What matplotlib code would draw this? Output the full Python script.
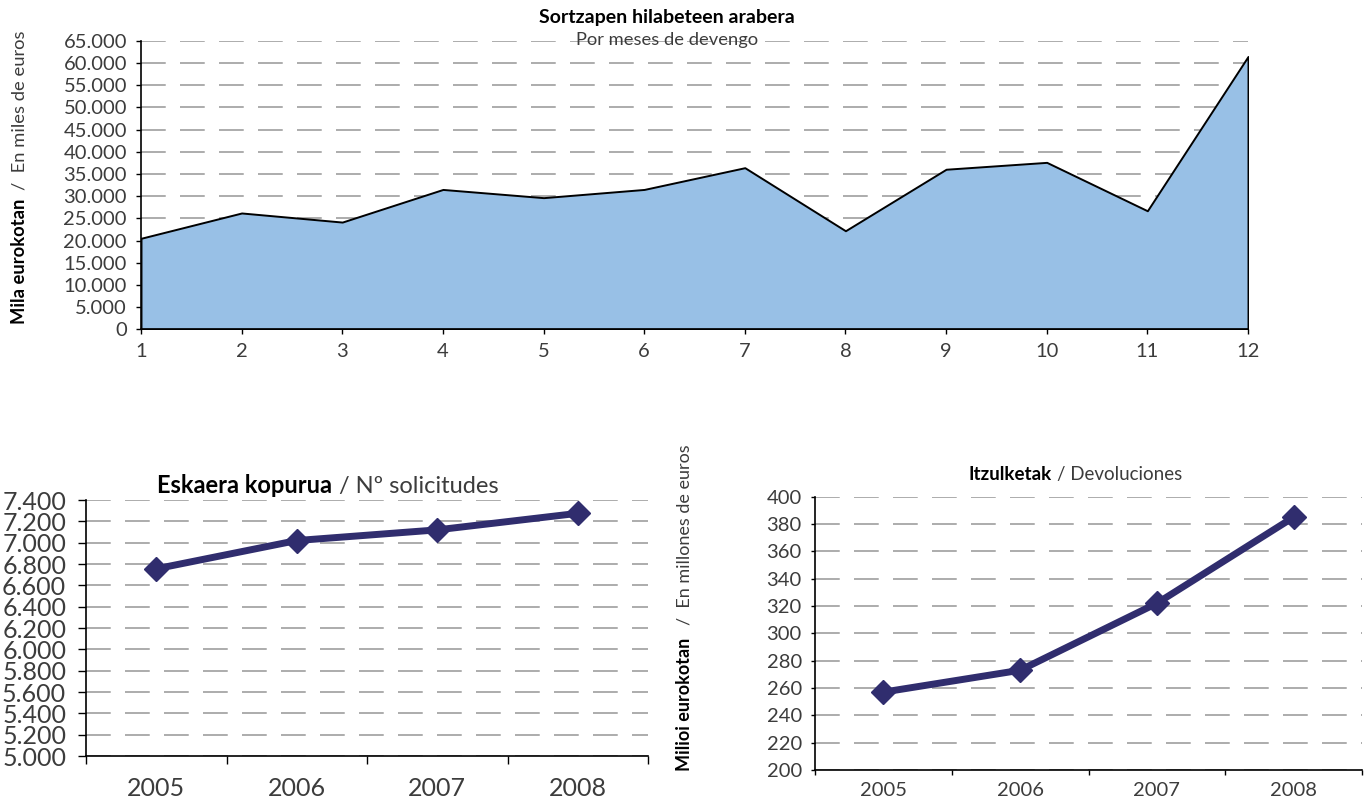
import matplotlib
matplotlib.use("Agg")
import matplotlib.pyplot as plt
from matplotlib.ticker import FuncFormatter, MultipleLocator, FixedLocator

# --- data ---
months = list(range(1, 13))
monthly_values = [20500, 26200, 24150, 31500, 29650, 31500,
                  36400, 22200, 36050, 37600, 26700, 61450]

years = ["2005", "2006", "2007", "2008"]
applications = [6755, 7020, 7120, 7275]
refunds = [257, 273, 322, 385]

# --- style ---
FONT = "Lato"
NAVY = "#302d6e"
FILL = "#98c0e6"
GRID = "#a6a6a6"
TXT = "#3c3c3c"
WEIGHT = "normal"
DASH = (0, (13.7, 7.9))

plt.rcParams["font.family"] = FONT

W, H = 1370, 801
fig = plt.figure(figsize=(W / 100, H / 100), dpi=100)


def px_axes(x0, y0, x1, y1):
    # pixel box (top-left origin) -> axes
    return fig.add_axes([x0 / W, 1 - y1 / H, (x1 - x0) / W, (y1 - y0) / H])


def thousands(v, _):
    return f"{v:,.0f}".replace(",", ".")


def base_style(ax):
    for s in ("top", "right"):
        ax.spines[s].set_visible(False)
    for s in ("left", "bottom"):
        ax.spines[s].set_color("black")
        ax.spines[s].set_linewidth(1.2)
    ax.set_axisbelow(True)
    ax.yaxis.grid(True, color=GRID, linewidth=1.3, linestyle=DASH)
    ax.xaxis.grid(False)


def two_part_label(x, y, bold, light, size, rotation=0, gap=4):
    t1 = fig.text(x, y, bold, fontsize=size, fontweight="bold",
                  color="black", rotation=rotation,
                  ha="center" if rotation else "left", va="bottom")
    if rotation == 90:
        t2 = fig.add_artist(plt.Annotation(
            light, xy=(0.5, 1), xycoords=t1, xytext=(0, gap),
            textcoords="offset points", ha="center", va="bottom",
            rotation=90, fontsize=size, fontweight=WEIGHT, color=TXT))
    else:
        t2 = fig.add_artist(plt.Annotation(
            light, xy=(1, 0), xycoords=t1, xytext=(gap, 0),
            textcoords="offset points", ha="left", va="bottom",
            fontsize=size, fontweight=WEIGHT, color=TXT))
    return t1, t2


# --- top: monthly area chart ---
ax1 = px_axes(141, 40.7, 1248, 329.3)
base_style(ax1)
ax1.fill_between(months, monthly_values, 0, facecolor=FILL,
                 edgecolor="black", linewidth=1.4)
ax1.set_xlim(1, 12)
ax1.set_ylim(0, 65000)
ax1.xaxis.set_major_locator(FixedLocator(months))
ax1.yaxis.set_major_locator(MultipleLocator(5000))
ax1.yaxis.set_major_formatter(FuncFormatter(thousands))
ax1.tick_params(axis="y", length=3.6, width=1, pad=6.5, labelsize=14.5,
                labelcolor=TXT)
ax1.tick_params(axis="x", length=3.6, width=1, pad=6, labelsize=14.5,
                labelcolor=TXT)
for lab in ax1.get_xticklabels() + ax1.get_yticklabels():
    lab.set_fontweight(WEIGHT)

fig.text(667 / W, 1 - 17 / H, "Sortzapen hilabeteen arabera", ha="center",
         va="center", fontsize=14, fontweight="bold", color="black")
fig.text(667 / W, 1 - 40 / H, "Por meses de devengo", ha="center",
         va="center", fontsize=13.2, fontweight=WEIGHT, color=TXT)
two_part_label(20 / W, 1 - 324 / H, "Mila eurokotan", "/  En miles de euros",
               13.2, rotation=90, gap=6)

# --- bottom-left: applications ---
ax2 = px_axes(86, 500, 648, 756)
base_style(ax2)
xpos = list(range(len(years)))
ax2.plot(xpos, applications, color=NAVY, linewidth=5, marker="D",
         markersize=12, solid_joinstyle="miter")
ax2.set_xlim(-0.5, len(years) - 0.5)
ax2.set_ylim(5000, 7400)
ax2.xaxis.set_major_locator(FixedLocator([i - 0.5 for i in range(len(years) + 1)]))
ax2.xaxis.set_major_formatter(FuncFormatter(lambda v, _: ""))
ax2.set_xticks(xpos, years, minor=True)
ax2.yaxis.set_major_locator(MultipleLocator(200))
ax2.yaxis.set_major_formatter(FuncFormatter(thousands))
ax2.tick_params(axis="x", which="major", length=5.5, width=1)
ax2.tick_params(axis="x", which="minor", length=0, pad=15, labelsize=18,
                labelcolor=TXT)
ax2.tick_params(axis="y", length=5.8, width=1, pad=8.5, labelsize=18,
                labelcolor=TXT)
for lab in ax2.get_xticklabels(minor=True) + ax2.get_yticklabels():
    lab.set_fontweight(WEIGHT)

two_part_label(157 / W, 1 - 497 / H, "Eskaera kopurua", "/ Nº solicitudes",
               17, gap=5)

# --- bottom-right: refunds ---
ax3 = px_axes(815, 496.7, 1362, 770)
base_style(ax3)
ax3.plot(xpos, refunds, color=NAVY, linewidth=5, marker="D",
         markersize=12, solid_joinstyle="miter")
ax3.set_xlim(-0.5, len(years) - 0.5)
ax3.set_ylim(200, 400)
ax3.xaxis.set_major_locator(FixedLocator([i - 0.5 for i in range(len(years) + 1)]))
ax3.xaxis.set_major_formatter(FuncFormatter(lambda v, _: ""))
ax3.set_xticks(xpos, years, minor=True)
ax3.yaxis.set_major_locator(MultipleLocator(20))
ax3.tick_params(axis="x", which="major", length=3.5, width=1)
ax3.tick_params(axis="x", which="minor", length=0, pad=9, labelsize=14.5,
                labelcolor=TXT)
ax3.tick_params(axis="y", length=3, width=1, pad=6.5, labelsize=14.5,
                labelcolor=TXT)
for lab in ax3.get_xticklabels(minor=True) + ax3.get_yticklabels():
    lab.set_fontweight(WEIGHT)

two_part_label(968 / W, 1 - 483 / H, "Itzulketak", "/ Devoluciones",
               13.5, gap=4)
two_part_label(685 / W, 1 - 771 / H, "Milioi eurokotan", "/  En millones de euros",
               13, rotation=90, gap=9)

fig.savefig("out.png", dpi=100)
